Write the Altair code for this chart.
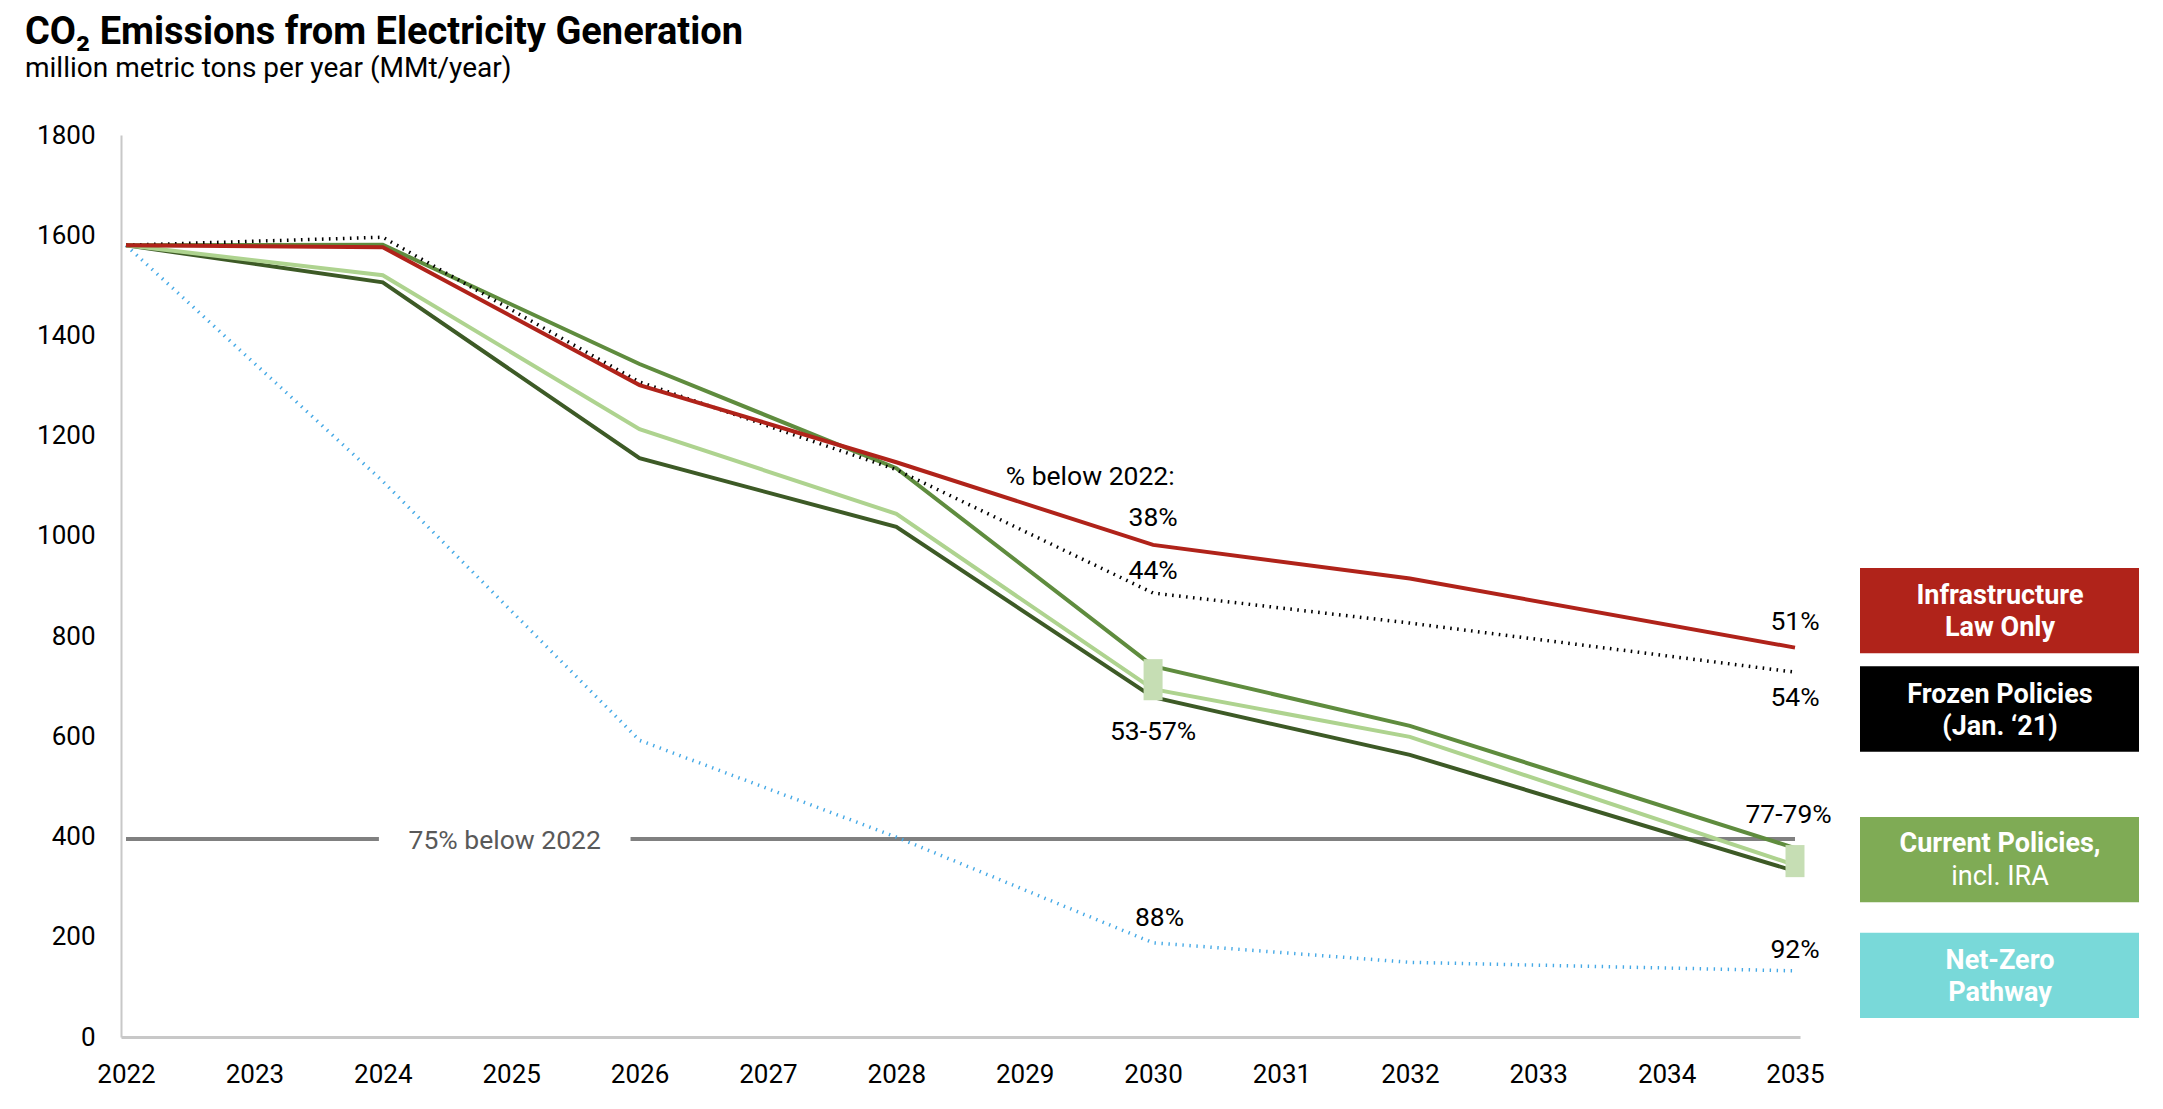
import altair as alt
import pandas as pd

# ---------------- data ----------------
years = [2022, 2024, 2026, 2028, 2030, 2032, 2035]
infrastructure = [1580, 1576, 1301, 1147, 982, 915, 777]
frozen = [1580, 1596, 1307, 1132, 886, 826, 728]
current_high = [1580, 1581, 1343, 1135, 740, 621, 377]
current_mid = [1580, 1520, 1213, 1044, 694, 599, 343]
current_low = [1580, 1506, 1155, 1018, 678, 563, 331]
net_zero = [1580, 1109, 592, 399, 188, 149, 132]

range_years = [2030, 2035]
range_low = [672, 319]
range_high = [754, 383]

target_value = 395
target_label = "75% below 2022"
target_label_year = 2024.95
target_seg_start = [2022, 2025.93]
target_seg_end = [2023.97, 2035]

ann_text = ["% below 2022:", "38%", "44%", "53-57%", "51%", "54%", "77-79%", "88%", "92%"]
ann_year = [2029.51, 2030, 2030, 2030, 2035, 2035, 2034.95, 2030.05, 2035]
ann_value = [1117, 1036, 929, 609, 828, 677, 443, 237, 174]

legend_line1 = ["Infrastructure", "Frozen Policies", "Current Policies,", "Net-Zero"]
legend_line2 = ["Law Only", "(Jan. \u201821)", "incl. IRA", "Pathway"]
legend_colors = ["#B0231A", "#000000", "#7FAB55", "#79D9D9"]

x_ticks = list(range(2022, 2036))
y_ticks = list(range(0, 1801, 200))

title_text = "CO\u2082 Emissions from Electricity Generation"
subtitle_text = "million metric tons per year (MMt/year)"

# ---------------- layout (in data units of the shared scales) ----------------
legend_top = [936, 740, 439, 208]
legend_bottom = [766, 569, 269, 38]
legend_l1_y = [880, 682, 385, 152]
legend_l2_y = [816, 618, 319, 88]
legend_l2_bold = [True, True, False, True]

FONT = "Roboto"
W, H = 1679, 902
LABEL_SIZE = 26
ANN_SIZE = 26.5

xs = alt.Scale(domain=[2022, 2035], nice=False, zero=False)
ys = alt.Scale(domain=[0, 1800], nice=False)

x_axis = alt.Axis(values=x_ticks, format="d", title=None, grid=False, ticks=False,
                  tickSize=0, labelFontSize=LABEL_SIZE, labelPadding=24, labelFont=FONT,
                  labelColor="black", labelFlush=False, labelOverlap=False,
                  domainColor="#C8C8C8", domainWidth=3)
y_axis = alt.Axis(values=y_ticks, format="d", title=None, grid=False, ticks=False,
                  tickSize=0, labelFontSize=LABEL_SIZE, labelPadding=26, labelFont=FONT,
                  labelColor="black", labelOverlap=False, labelFlush=False,
                  domainColor="#C8C8C8", domainWidth=2)


def series_line(values, color, width, dash=None):
    df = pd.DataFrame({"year": years, "value": values})
    kw = dict(color=color, strokeWidth=width, clip=False)
    if dash is not None:
        kw["strokeDash"] = dash
    return alt.Chart(df).mark_line(**kw).encode(
        x=alt.X("year:Q", scale=xs, axis=x_axis),
        y=alt.Y("value:Q", scale=ys, axis=y_axis),
    )


# 75% target line (two segments around its label)
seg_df = pd.DataFrame({"x0": target_seg_start, "x1": target_seg_end,
                       "v": [target_value] * len(target_seg_start)})
target_rule = alt.Chart(seg_df).mark_rule(color="#808080", strokeWidth=4).encode(
    x=alt.X("x0:Q", scale=xs, axis=x_axis), x2="x1:Q",
    y=alt.Y("v:Q", scale=ys, axis=y_axis))
target_text = alt.Chart(pd.DataFrame({"x": [target_label_year], "v": [target_value],
                                      "t": [target_label]})).mark_text(
    font=FONT, fontSize=ANN_SIZE, color="#595959", align="center", baseline="middle", dy=2
).encode(x=alt.X("x:Q", scale=xs), y=alt.Y("v:Q", scale=ys), text="t:N")

lines = [
    series_line(net_zero, "#45A9E6", 3.5, [1.4, 5.6]),
    series_line(current_low, "#3D5A26", 4),
    series_line(current_mid, "#AED38F", 4),
    series_line(current_high, "#5F8C3E", 4),
    series_line(frozen, "#000000", 3.5, [1.6, 5.4]),
    series_line(infrastructure, "#B0231A", 4),
]

range_df = pd.DataFrame({"year": range_years, "lo": range_low, "hi": range_high})
range_bars = alt.Chart(range_df).mark_bar(size=19, color="#C6DEB4", clip=False).encode(
    x=alt.X("year:Q", scale=xs), y=alt.Y("lo:Q", scale=ys), y2="hi:Q")

ann_df = pd.DataFrame({"year": ann_year, "value": ann_value, "t": ann_text})
annotations = alt.Chart(ann_df).mark_text(
    font=FONT, fontSize=ANN_SIZE, color="black", align="center", baseline="middle"
).encode(x=alt.X("year:Q", scale=xs), y=alt.Y("value:Q", scale=ys), text="t:N")

# legend boxes to the right of the plot
leg_df = pd.DataFrame({"top": legend_top, "bottom": legend_bottom, "c": legend_colors,
                       "l1": legend_line1, "l2": legend_line2, "y1": legend_l1_y,
                       "y2": legend_l2_y, "bold2": legend_l2_bold})
legend_boxes = alt.Chart(leg_df).mark_rect(clip=False).encode(
    x=alt.value(1739), x2=alt.value(2018),
    y=alt.Y("top:Q", scale=ys), y2="bottom:Q",
    color=alt.Color("c:N", scale=None, legend=None))
legend_t1 = alt.Chart(leg_df).mark_text(
    font=FONT, fontSize=27, fontWeight="bold", color="white", align="center",
    baseline="middle").encode(x=alt.value(1879), y=alt.Y("y1:Q", scale=ys), text="l1:N")
legend_t2b = alt.Chart(leg_df).transform_filter("datum.bold2").mark_text(
    font=FONT, fontSize=27, fontWeight="bold", color="white", align="center",
    baseline="middle").encode(x=alt.value(1879), y=alt.Y("y2:Q", scale=ys), text="l2:N")
legend_t2r = alt.Chart(leg_df).transform_filter("!datum.bold2").mark_text(
    font=FONT, fontSize=27, fontWeight="normal", color="white", align="center",
    baseline="middle").encode(x=alt.value(1879), y=alt.Y("y2:Q", scale=ys), text="l2:N")

title_mark = alt.Chart(pd.DataFrame({"t": [title_text]})).mark_text(
    font=FONT, fontSize=38, fontWeight="bold", color="black", align="left",
    baseline="alphabetic").encode(x=alt.value(-96), y=alt.value(-91), text="t:N")
subtitle_mark = alt.Chart(pd.DataFrame({"t": [subtitle_text]})).mark_text(
    font=FONT, fontSize=28, color="black", align="left",
    baseline="alphabetic").encode(x=alt.value(-96), y=alt.value(-58), text="t:N")

chart = alt.layer(
    target_rule, target_text, *lines, range_bars, annotations,
    legend_boxes, legend_t1, legend_t2b, legend_t2r, title_mark, subtitle_mark
).properties(
    width=W, height=H,
    autosize=alt.AutoSizeParams(type="none"),
    padding={"left": 113, "top": 127, "right": 355, "bottom": 56},
    background="white",
).configure_view(stroke=None)

chart.save("out.html", embed_options={"renderer": "svg", "actions": False})
